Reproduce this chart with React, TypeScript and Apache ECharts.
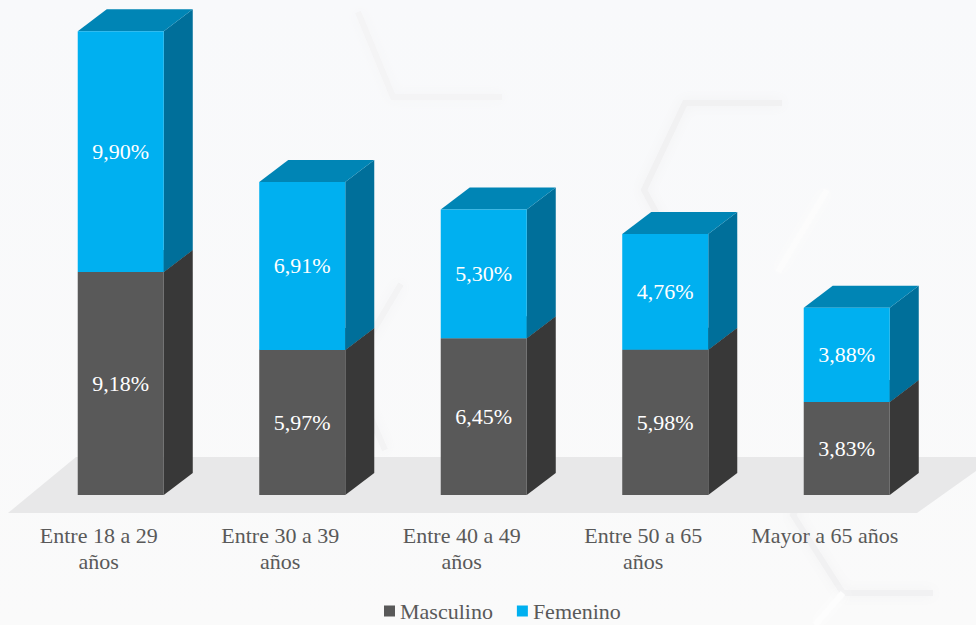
import React, { useEffect, useRef } from "react";
import * as echarts from "echarts";

const categories = ["Entre 18 a 29 años", "Entre 30 a 39 años", "Entre 40 a 49 años", "Entre 50 a 65 años", "Mayor a 65 años"];
const masculino = [9.18, 5.97, 6.45, 5.98, 3.83];
const femenino = [9.9, 6.91, 5.3, 4.76, 3.88];

const FONT = "Liberation Serif";
const DEPTH_X = 29;
const DEPTH_Y = 22;

const fmt = (v: number) => v.toFixed(2).replace(".", ",") + "%";

function renderBar(front: string, side: string, top: string) {
  return (_params: any, api: any) => {
    const i = api.value(0);
    const start = api.value(1);
    const end = api.value(2);
    const [cx, y0] = api.coord([i, start]);
    const [, y1] = api.coord([i, end]);
    const w = api.size([1, 0])[0] * 0.474;
    const x0 = cx - w / 2;
    const x1 = cx + w / 2;
    const poly = (points: number[][], fill: string) => ({
      type: "polygon",
      shape: { points },
      style: { fill },
    });
    return {
      type: "group",
      children: [
        poly([[x1, y0], [x1 + DEPTH_X, y0 - DEPTH_Y], [x1 + DEPTH_X, y1 - DEPTH_Y], [x1, y1]], side),
        poly([[x0, y1], [x0 + DEPTH_X, y1 - DEPTH_Y], [x1 + DEPTH_X, y1 - DEPTH_Y], [x1, y1]], top),
        { type: "rect", shape: { x: x0, y: y1, width: w, height: y0 - y1 }, style: { fill: front } },
        {
          type: "text",
          x: cx,
          y: (y0 + y1) / 2,
          style: {
            text: fmt(end - start),
            fill: "#ffffff",
            fontFamily: FONT,
            fontSize: 22,
            align: "center",
            verticalAlign: "middle",
          },
        },
      ],
    };
  };
}

const hex = (points: number[][], stroke: string, width: number) => ({
  type: "polyline",
  silent: true,
  z: -10,
  shape: { points },
  style: { stroke, lineWidth: width, fill: "none", shadowBlur: 12, shadowColor: stroke },
});

export default function App() {
  const ref = useRef<HTMLDivElement>(null);
  useEffect(() => {
    const chart = echarts.init(ref.current!, null, { renderer: "svg" });
    chart.setOption({
      animation: false,
      backgroundColor: {
        type: "linear", x: 0, y: 0, x2: 0, y2: 1,
        colorStops: [{ offset: 0, color: "#f8f9fb" }, { offset: 1, color: "#fafafa" }],
      },
      textStyle: { fontFamily: FONT },
      grid: { left: 30, top: 9, width: 907.5, height: 486 },
      xAxis: {
        type: "category",
        data: categories,
        axisLine: { show: false },
        axisTick: { show: false },
        axisLabel: {
          interval: 0,
          color: "#595959",
          fontFamily: FONT,
          fontSize: 22,
          lineHeight: 26,
          margin: 27,
          padding: [0, 44, 0, 0],
          formatter: (v: string) => (v.startsWith("Entre") ? v.replace(" años", "\naños") : v),
        },
      },
      yAxis: { type: "value", min: 0, max: 20, show: false, splitLine: { show: false } },
      legend: {
        left: 379,
        top: 595,
        itemWidth: 11,
        itemHeight: 11,
        itemGap: 24,
        icon: "rect",
        selectedMode: false,
        textStyle: { color: "#595959", fontFamily: FONT, fontSize: 22 },
        data: ["Masculino", "Femenino"],
      },
      graphic: [
        { ...hex([[358, 12], [393, 97], [502, 97]], "#f4f4f5", 6) },
        { ...hex([[677, 251], [644, 190], [685, 103], [782, 103]], "#f1f1f2", 6) },
        { ...hex([[827, 190], [778, 272]], "#fcfcfc", 6) },
        { ...hex([[401, 284], [350, 370], [385, 450]], "#f3f3f4", 6) },
        { ...hex([[803, 497], [793, 515], [843, 593], [933, 593]], "#f1f1f2", 6) },
        { ...hex([[843, 593], [815, 625]], "#fdfdfd", 6) },
        {
          type: "polygon",
          silent: true,
          z: -5,
          shape: { points: [[8, 513], [76, 457], [976, 457], [976, 471], [917, 513]] },
          style: { fill: "#e8e8e9" },
        },
      ],
      series: [
        {
          name: "Masculino",
          type: "custom",
          renderItem: renderBar("#595959", "#383838", "#404040"),
          itemStyle: { color: "#595959" },
          encode: { x: 0, y: [1, 2] },
          data: masculino.map((v, i) => [i, 0, v]),
        },
        {
          name: "Femenino",
          type: "custom",
          renderItem: renderBar("#00b0f0", "#006f9a", "#0085b5"),
          itemStyle: { color: "#00b0f0" },
          encode: { x: 0, y: [1, 2] },
          data: femenino.map((v, i) => [i, masculino[i], masculino[i] + v]),
        },
      ],
    });
    return () => chart.dispose();
  }, []);
  return <div ref={ref} style={{ position: "fixed", left: 0, top: 0, width: 976, height: 625 }} />;
}
